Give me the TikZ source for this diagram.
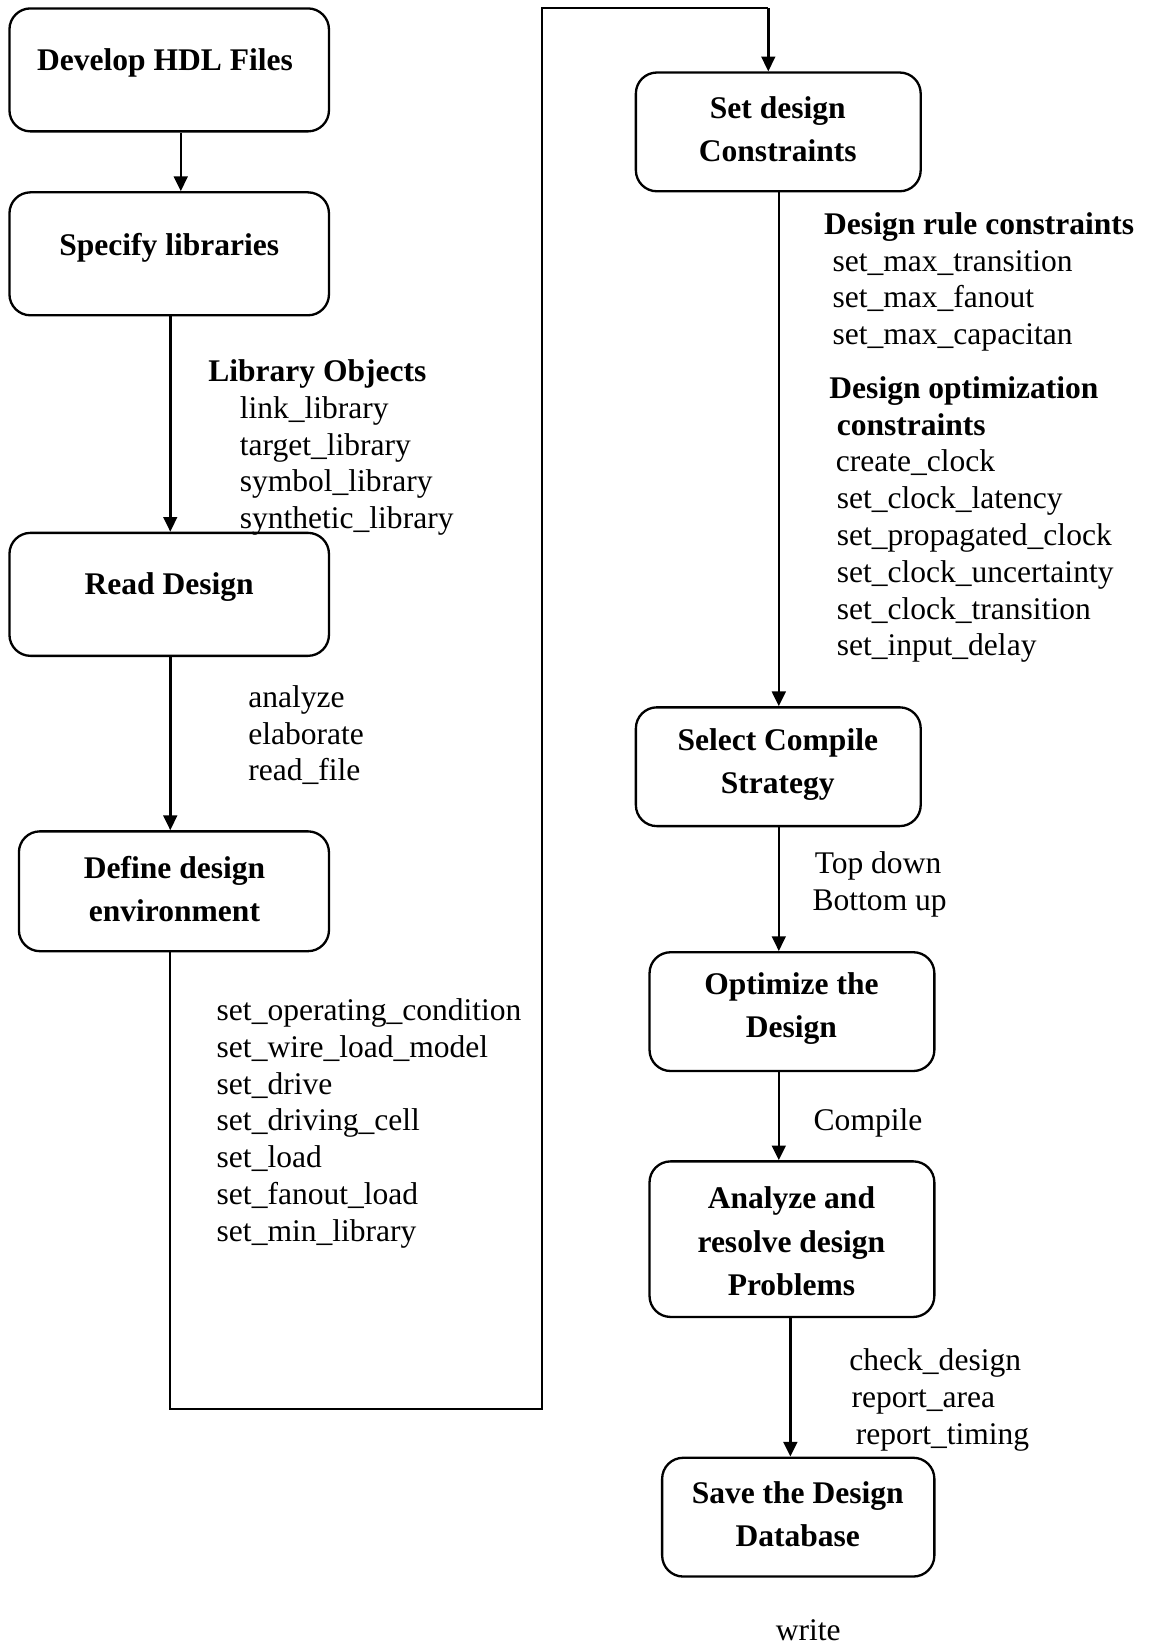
\documentclass[tikz,border=0pt]{standalone}
\usepackage{fontspec}
\setmainfont{Liberation Serif}
\usetikzlibrary{arrows.meta}
\begin{document}
\begin{tikzpicture}[x=1pt,y=-1pt,
  box/.style={draw, line width=2.2pt, rounded corners=20pt, inner sep=0pt},
  ttl/.style={font=\fontsize{30}{41}\selectfont\bfseries, align=center, inner sep=0pt},
  cmd/.style={font=\fontsize{30}{35}\selectfont, anchor=base west, inner sep=0pt},
  hdr/.style={font=\fontsize{30}{35}\selectfont\bfseries, anchor=base west, inner sep=0pt},
  arr/.style={line width=2.4pt, -{Triangle[width=13pt,length=14pt]}},
  wire/.style={line width=2pt}]
\fill[white] (0,0) rectangle (1096,1568);
\useasboundingbox (0,0) rectangle (1096,1568);

% flow boxes, left column
\node[box, minimum width=304pt, minimum height=117pt] (n1) at (161,66.5) {};
\node[box, minimum width=304pt, minimum height=117pt] (n2) at (161,241.5) {};
\node[box, minimum width=304pt, minimum height=117pt] (n3) at (161,565.5) {};
\node[box, minimum width=295pt, minimum height=114pt] (n4) at (165.5,848) {};
% flow boxes, right column
\node[box, minimum width=271pt, minimum height=113pt] (n5) at (740.5,125.5) {};
\node[box, minimum width=271pt, minimum height=113pt] (n6) at (740.5,729.5) {};
\node[box, minimum width=271pt, minimum height=113pt] (n7) at (753.5,962.5) {};
\node[box, minimum width=271pt, minimum height=148pt] (n8) at (753.5,1179) {};
\node[box, minimum width=259pt, minimum height=113pt] (n9) at (759.5,1443.5) {};

% box titles
\node[ttl, anchor=base] (t1) at (157,67) {Develop HDL Files};
\node[ttl, anchor=base] (t2) at (161,243) {Specify libraries};
\node[ttl, anchor=base] (t3) at (161,566) {Read Design};
\node[ttl] (t4) at (166,846) {Define design\\environment};
\node[ttl] (t5) at (740,123) {Set design\\Constraints};
\node[ttl] (t6) at (740,727) {Select Compile\\Strategy};
\node[ttl] (t7) at (753,960) {Optimize the\\Design};
\node[ttl] (t8) at (753,1181) {Analyze and\\resolve design\\Problems};
\node[ttl] (t9) at (759,1441) {Save the Design\\Database};

% connector columns
\coordinate (v1) at (172,0);
\coordinate (v2) at (162,0);
\coordinate (v5) at (741,0);
\coordinate (v8) at (752,0);
\coordinate (c1) at (162,1341);
\coordinate (c2) at (516,1341);
\coordinate (c3) at (516,8);
\coordinate (c4) at (731,8);

\draw[arr] (n1.south -| v1) -- (n2.north -| v1);
\draw[arr] (n2.south -| v2) -- (n3.north -| v2);
\draw[arr] (n3.south -| v2) -- (n4.north -| v2);
\draw[wire] (n4.south -| v2) -- (c1) -- (c2) -- (c3) -- (c4);
\draw[arr] (c4) -- (n5.north -| c4);
\draw[arr] (n5.south -| v5) -- (n6.north -| v5);
\draw[arr] (n6.south -| v5) -- (n7.north -| v5);
\draw[arr] (n7.south -| v5) -- (n8.north -| v5);
\draw[arr] (n8.south -| v8) -- (n9.north -| v8);

% library setup commands
\node[hdr] (l0) at (198,363) {Library Objects};
\node[cmd] (l1) at (228,398) {link\_library};
\node[cmd] (l2) at (228,433) {target\_library};
\node[cmd] (l3) at (228,468) {symbol\_library};
\node[cmd] (l4) at (228,503) {synthetic\_library};

% reading commands
\node[cmd] (r1) at (236,673) {analyze};
\node[cmd] (r2) at (236,708) {elaborate};
\node[cmd] (r3) at (236,743) {read\_file};

% environment commands
\node[cmd] (e1) at (206,971) {set\_operating\_condition};
\node[cmd] (e2) at (206,1006) {set\_wire\_load\_model};
\node[cmd] (e3) at (206,1041) {set\_drive};
\node[cmd] (e4) at (206,1076) {set\_driving\_cell};
\node[cmd] (e5) at (206,1111) {set\_load};
\node[cmd] (e6) at (206,1146) {set\_fanout\_load};
\node[cmd] (e7) at (206,1181) {set\_min\_library};

% constraint commands
\node[hdr] (d0) at (784,223) {Design rule constraints};
\node[cmd] (d1) at (792,258) {set\_max\_transition};
\node[cmd] (d2) at (792,293) {set\_max\_fanout};
\node[cmd] (d3) at (792,328) {set\_max\_capacitan};
\node[hdr] (o0) at (789,379) {Design optimization};
\node[hdr] (o1) at (796,414) {constraints};
\node[cmd] (o2) at (795,449) {create\_clock};
\node[cmd] (o3) at (796,484) {set\_clock\_latency};
\node[cmd] (o4) at (796,519) {set\_propagated\_clock};
\node[cmd] (o5) at (796,554) {set\_clock\_uncertainty};
\node[cmd] (o6) at (796,589) {set\_clock\_transition};
\node[cmd] (o7) at (796,624) {set\_input\_delay};

% compile strategy
\node[cmd] (s1) at (775,831) {Top down};
\node[cmd] (s2) at (773,866) {Bottom up};
\node[cmd] (s3) at (774,1076) {Compile};

% analysis commands
\node[cmd] (a1) at (808,1304) {check\_design};
\node[cmd] (a2) at (810,1339) {report\_area};
\node[cmd] (a3) at (814,1374) {report\_timing};
\node[cmd] (w1) at (738,1561) {write};
\end{tikzpicture}
\end{document}
